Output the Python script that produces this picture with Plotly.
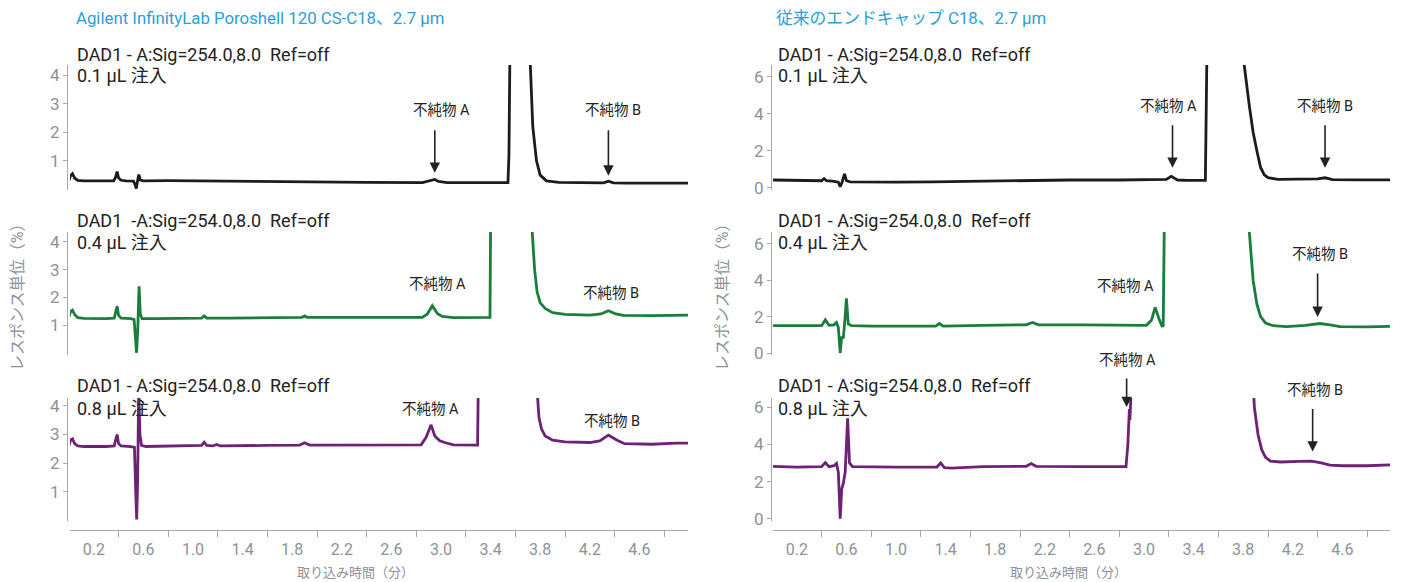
import plotly.graph_objects as go

# page body has an 8px margin; figure coordinates below are given in screen pixels
OFF = 8
FW, FH = 1394, 574
FONT = "Roboto, 'Noto Sans CJK JP', sans-serif"

# ---------------- data (time in min, response in %) ----------------
L1_t = [0.00,0.012,0.028,0.045,0.07,0.12,0.25,0.36,0.375,0.388,0.40,0.42,0.46,0.52,0.532,0.543,0.553,0.563,0.575,0.60,0.8,1.0,1.3,1.6,2.0,2.4,2.85,2.92,2.95,2.98,3.05,3.3,3.54,3.548,3.556,3.565,3.63,3.70,3.72,3.74,3.755,3.77,3.80,3.85,3.95,4.2,4.31,4.35,4.39,4.5,4.8,5.0]
L1_y = [0.32,0.48,0.55,0.4,0.32,0.3,0.3,0.3,0.42,0.62,0.4,0.32,0.3,0.29,0.18,0.03,0.3,0.52,0.33,0.3,0.31,0.3,0.29,0.28,0.27,0.25,0.24,0.3,0.35,0.28,0.24,0.24,0.24,1.2,4,9,45,12,4.4,2.2,1.5,1.0,0.5,0.3,0.25,0.23,0.23,0.29,0.23,0.22,0.22,0.22]

L2_t = [0.00,0.012,0.028,0.045,0.07,0.12,0.3,0.365,0.375,0.388,0.40,0.42,0.5,0.525,0.535,0.545,0.555,0.565,0.575,0.59,0.7,1.0,1.07,1.09,1.11,1.3,1.6,1.88,1.90,1.92,2.2,2.6,2.85,2.89,2.93,2.97,3.01,3.1,3.3,3.395,3.405,3.415,3.55,3.70,3.735,3.755,3.775,3.80,3.84,3.90,4.0,4.2,4.29,4.35,4.41,4.47,4.7,5.0]
L2_y = [1.3,1.48,1.54,1.38,1.27,1.24,1.23,1.25,1.45,1.68,1.35,1.25,1.23,1.2,0.6,0.0,0.9,2.4,1.4,1.23,1.23,1.25,1.25,1.33,1.25,1.25,1.27,1.28,1.33,1.28,1.28,1.28,1.28,1.4,1.7,1.42,1.31,1.27,1.27,1.28,8,30,80,30,4.4,3.0,2.2,1.8,1.6,1.45,1.39,1.36,1.4,1.52,1.4,1.35,1.34,1.36]

L3_t = [0.00,0.012,0.028,0.045,0.07,0.12,0.3,0.365,0.375,0.388,0.40,0.42,0.5,0.528,0.538,0.546,0.554,0.562,0.572,0.585,0.62,0.8,1.0,1.07,1.09,1.11,1.16,1.19,1.22,1.4,1.6,1.86,1.90,1.94,2.2,2.6,2.84,2.88,2.92,2.95,2.99,3.03,3.1,3.295,3.305,3.32,3.5,3.72,3.775,3.79,3.81,3.84,3.9,4.0,4.2,4.28,4.35,4.42,4.48,4.7,4.9,5.0]
L3_y = [2.62,2.8,2.85,2.68,2.6,2.58,2.58,2.6,2.8,3.0,2.68,2.6,2.58,2.55,1.0,0.02,1.5,4.6,3.0,2.62,2.58,2.6,2.62,2.62,2.73,2.62,2.6,2.65,2.6,2.6,2.62,2.63,2.71,2.63,2.63,2.64,2.64,2.9,3.34,2.95,2.78,2.72,2.64,2.63,10,40,80,8,4.3,3.6,3.2,2.95,2.8,2.74,2.72,2.78,2.98,2.8,2.68,2.66,2.7,2.7]

R1_t = [0.00,0.2,0.40,0.42,0.44,0.5,0.535,0.55,0.565,0.585,0.60,0.63,0.8,1.0,1.3,1.6,2.0,2.4,2.8,3.1,3.18,3.22,3.27,3.35,3.495,3.505,3.515,3.66,3.79,3.805,3.85,3.88,3.91,3.94,3.97,4.0,4.08,4.2,4.40,4.46,4.52,4.7,5.0]
R1_y = [0.42,0.38,0.38,0.5,0.38,0.35,0.3,0.05,0.3,0.75,0.38,0.32,0.3,0.3,0.32,0.35,0.4,0.42,0.42,0.42,0.45,0.62,0.42,0.4,0.4,6,30,80,12,6.8,4.4,3.0,2.0,1.1,0.7,0.55,0.45,0.45,0.48,0.54,0.44,0.43,0.43]

R2_t = [0.00,0.2,0.40,0.43,0.46,0.50,0.52,0.535,0.55,0.562,0.575,0.59,0.60,0.615,0.64,0.8,1.0,1.32,1.35,1.38,1.7,2.05,2.1,2.15,2.5,2.9,3.02,3.06,3.09,3.12,3.145,3.155,3.165,3.175,3.5,3.83,3.85,3.88,3.91,3.94,3.98,4.04,4.15,4.3,4.42,4.5,4.58,4.8,5.0]
R2_y = [1.5,1.48,1.5,1.82,1.52,1.55,1.68,1.4,0.0,0.9,0.8,2.0,3.0,1.6,1.5,1.48,1.47,1.48,1.62,1.48,1.52,1.55,1.68,1.55,1.55,1.52,1.52,1.8,2.5,1.9,1.48,1.5,8,40,80,12,6.6,4.0,2.7,2.0,1.65,1.5,1.45,1.52,1.62,1.55,1.45,1.44,1.47]

R3_t = [0.00,0.2,0.40,0.43,0.46,0.50,0.52,0.535,0.55,0.562,0.575,0.59,0.61,0.625,0.65,0.8,1.0,1.33,1.36,1.39,1.45,1.7,2.05,2.09,2.13,2.5,2.855,2.87,2.882,2.886,2.89,2.90,2.95,3.4,3.86,3.875,3.89,3.92,3.95,3.98,4.02,4.1,4.25,4.35,4.42,4.5,4.6,4.8,5.0]
R3_y = [2.82,2.78,2.8,3.02,2.8,2.85,2.97,2.5,0.0,1.6,1.9,2.5,5.4,3.0,2.8,2.78,2.78,2.78,3.0,2.75,2.72,2.8,2.82,2.97,2.82,2.8,2.8,4.0,5.9,5.3,6.0,12,40,80,15,8,6.0,4.5,3.7,3.3,3.1,3.05,3.08,3.1,3.02,2.88,2.85,2.85,2.9]

X_TICK_VALS = [0.2, 0.6, 1.0, 1.4, 1.8, 2.2, 2.6, 3.0, 3.4, 3.8, 4.2, 4.6]
X_TICK_TEXT = ["0.2", "0.6", "1.0", "1.4", "1.8", "2.2", "2.6", "3.0", "3.4", "3.8", "4.2", "4.6"]
X_MINOR_VALS = [0.0, 0.4, 0.8, 1.2, 1.6, 2.0, 2.4, 2.8, 3.2, 3.6, 4.0, 4.4, 4.8]
Y_TICKS_LEFT = [1, 2, 3, 4]
Y_TICKS_RIGHT = [0, 2, 4, 6]

TITLES = ["Agilent InfinityLab Poroshell 120 CS-C18、2.7 µm", "従来のエンドキャップ C18、2.7 µm"]
SIG_LEFT = ["DAD1 - A:Sig=254.0,8.0\u00a0 Ref=off", "DAD1 \u00a0-A:Sig=254.0,8.0\u00a0 Ref=off", "DAD1 - A:Sig=254.0,8.0\u00a0 Ref=off"]
SIG_RIGHT = ["DAD1 - A:Sig=254.0,8.0\u00a0 Ref=off"] * 3
INJ = ["0.1 µL 注入", "0.4 µL 注入", "0.8 µL 注入"]
Y_TITLE = "レスポンス単位（%）"
X_TITLE = "取り込み時間（分）"

for t, y in [(L1_t, L1_y), (L2_t, L2_y), (L3_t, L3_y), (R1_t, R1_y), (R2_t, R2_y), (R3_t, R3_y)]:
    assert len(t) == len(y)

COLORS = ["#1c1c1c", "#1b7d3c", "#6e2276"]
GRAY = "#8d9297"
LINEC = "#a8abae"


def sx(p):
    return (p - OFF) / FW


def sy(p):
    return 1 - (p - OFF) / FH


ROWS = [(65, 190), (232, 355), (398, 521)]
Y_RANGES_L = [(-0.02, 4.35), (-0.08, 4.36), (-0.03, 4.28)]
Y_RANGES_R = [(-0.12, 6.63), (-0.11, 6.65), (-0.12, 6.49)]

fig = go.Figure()
series_l = [(L1_t, L1_y), (L2_t, L2_y), (L3_t, L3_y)]
series_r = [(R1_t, R1_y), (R2_t, R2_y), (R3_t, R3_y)]
for i, (t, y) in enumerate(series_l):
    fig.add_trace(go.Scatter(x=t, y=y, mode="lines", line=dict(color=COLORS[i], width=2.8),
                             xaxis="x", yaxis="y" if i == 0 else f"y{i+1}", showlegend=False, hoverinfo="skip"))
for i, (t, y) in enumerate(series_r):
    fig.add_trace(go.Scatter(x=t, y=y, mode="lines", line=dict(color=COLORS[i], width=2.8),
                             xaxis="x2", yaxis=f"y{i+4}", showlegend=False, hoverinfo="skip"))

xax = dict(anchor="free", position=sy(530), showline=True, linecolor=LINEC, linewidth=1.2,
           tickvals=X_TICK_VALS, ticktext=X_TICK_TEXT, ticks="", ticklabelstandoff=5,
           showgrid=False, zeroline=False, automargin=False,
           tickfont=dict(family=FONT, size=16, color=GRAY),
           minor=dict(tickvals=X_MINOR_VALS, ticks="outside", ticklen=6, tickcolor=LINEC, tickwidth=1.2))
fig.update_layout(
    xaxis=dict(xax, domain=[sx(70), sx(688)], range=[(70 - 69) / 124, (688 - 69) / 124]),
    xaxis2=dict(xax, domain=[sx(773), sx(1390)], range=[(773 - 772) / 124, (1390 - 772) / 124]),
)

yax = dict(anchor="free", showline=True, linecolor=LINEC, linewidth=1.2, ticks="outside", ticklen=4,
           tickcolor=LINEC, showgrid=False, zeroline=False, automargin=False,
           tickfont=dict(family=FONT, size=17, color=GRAY))
for i in range(3):
    top, bot = ROWS[i]
    name_l = "yaxis" if i == 0 else f"yaxis{i+1}"
    fig.layout[name_l] = dict(yax, domain=[sy(bot), sy(top)], range=list(Y_RANGES_L[i]),
                              position=sx(67), tickvals=Y_TICKS_LEFT)
    fig.layout[f"yaxis{i+4}"] = dict(yax, domain=[sy(bot), sy(top)], range=list(Y_RANGES_R[i]),
                                     position=sx(771), tickvals=Y_TICKS_RIGHT)


def txt(s, x, y, size=18, color="#222222", xanchor="left", angle=0):
    dx = 3 if xanchor == "left" else 0
    fig.add_annotation(text=s, x=sx(x - dx), y=sy(y), xref="paper", yref="paper", showarrow=False,
                       xanchor=xanchor, yanchor="middle", textangle=angle,
                       font=dict(family=FONT, size=size, color=color))


def arrow(xa, ya, t, v, length):
    fig.add_annotation(x=t, y=v, xref=xa, yref=ya, ax=0, ay=-length, text="", showarrow=True,
                       arrowhead=2, arrowsize=1.3, arrowwidth=1.6, arrowcolor="#222222")


BLUE = "#2b9fd8"
txt(TITLES[0], 77, 18, size=16.8, color=BLUE)
txt(TITLES[1], 777, 18, size=16.8, color=BLUE)

sig_y = [55, 220, 385]
inj_y = [75, 242, 408]
for i in range(3):
    txt(SIG_LEFT[i], 78, sig_y[i])
    txt(INJ[i], 78, inj_y[i])
    txt(SIG_RIGHT[i], 779, sig_y[i])
    txt(INJ[i], 779, inj_y[i])

IMP_A = "不純物 A"
IMP_B = "不純物 B"
labels = [(IMP_A, 441, 111), (IMP_B, 613, 111), (IMP_A, 437, 284), (IMP_B, 611, 293),
          (IMP_A, 430, 409), (IMP_B, 612, 421), (IMP_A, 1168, 106), (IMP_B, 1325, 106),
          (IMP_A, 1125, 286), (IMP_B, 1320, 254), (IMP_A, 1127, 360), (IMP_B, 1315, 390)]
for s, x, y in labels:
    txt(s, x, y, size=14.5, xanchor="center")

arrow("x", "y", 2.95, 0.58, 44)
arrow("x", "y", 4.35, 0.48, 47)
arrow("x2", "y4", 3.23, 1.08, 44)
arrow("x2", "y4", 4.46, 1.08, 44)
arrow("x2", "y5", 4.40, 1.98, 45)
arrow("x2", "y6", 2.86, 6.0, 30)
arrow("x2", "y6", 4.36, 3.61, 44)

txt(Y_TITLE, 17, 294, size=16, color=GRAY, xanchor="center", angle=-90)
txt(Y_TITLE, 722, 294, size=16, color=GRAY, xanchor="center", angle=-90)
txt(X_TITLE, 355, 572, size=13, color=GRAY, xanchor="center")
txt(X_TITLE, 1068, 572, size=13, color=GRAY, xanchor="center")

fig.update_layout(width=FW, height=FH, margin=dict(l=0, r=0, t=0, b=0, autoexpand=False),
                  paper_bgcolor="white", plot_bgcolor="white", font=dict(family=FONT))
fig.write_html("out.html")
